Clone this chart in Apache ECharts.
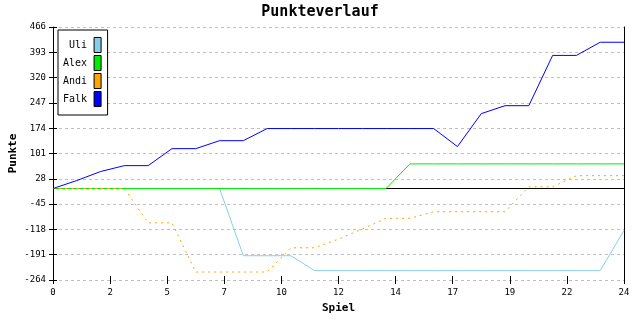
<!DOCTYPE html>
<html>
<head>
<meta charset="utf-8">
<script src="https://cdn.jsdelivr.net/npm/echarts@6/dist/echarts.min.js"></script>
<style>html,body{margin:0;padding:0;background:#fff}#c{width:640px;height:320px}</style>
</head>
<body>
<div id="c"></div>
<script>
var games = [0,1,2,3,4,5,6,7,8,9,10,11,12,13,14,15,16,17,18,19,20,21,22,23,24];
var uli  = [0,0,0,0,0,0,0,0,-194,-194,-194,-237,-237,-237,-237,-237,-237,-237,-237,-237,-237,-237,-237,-237,-121];
var alex = [0,0,0,0,0,0,0,0,0,0,0,0,0,0,0,71,71,71,71,71,71,71,71,71,71];
var andi = [0,0,0,0,-99,-99,-241,-241,-241,-241,-171,-171,-146,-117,-86,-86,-67,-67,-67,-67,5,5,37,37,37];
var falk = [0,23,49,66,66,115,115,138,138,173,173,173,173,173,173,173,173,121,216,239,239,384,384,422,422];
var zeroLine = [0,0];
var zeroX = [0,24];
var yTicks = [-264,-191,-118,-45,28,101,174,247,320,393,466];
var names = ['Uli','Alex','Andi','Falk'];
var colors = ['#87CEEB','#00EE00','#FFA500','#0000FF'];

function pairs(vals){ return games.map(function(g,i){ return [g, vals[i]]; }); }

var mono = 'DejaVu Sans Mono';
var yMin = yTicks[0], yMax = yTicks[yTicks.length-1], yInt = yTicks[1]-yTicks[0];

var chart = echarts.init(document.getElementById('c'), null, {renderer:'canvas'});
chart.setOption({
  animation:false,
  backgroundColor:'#fff',
  title:{text:'Punkteverlauf', left:'center', top:5, padding:0,
    textStyle:{fontFamily:mono, fontSize:15, fontWeight:'bold', color:'#000'}},
  legend:{orient:'vertical', left:58, top:30, align:'right', icon:'rect',
    itemWidth:7, itemHeight:15, itemGap:2, data:names,
    backgroundColor:'#fff', borderColor:'#000', borderWidth:1, borderRadius:0,
    padding:[7,6,8,5],
    itemStyle:{borderColor:'#000', borderWidth:1},
    textStyle:{fontFamily:mono, fontSize:10, color:'#000', padding:[0,2,0,0]}},
  grid:{left:53, right:16, top:27, bottom:40, containLabel:false, outerBoundsMode:'none'},
  xAxis:[{type:'value', min:0, max:24, interval:2.4, position:'bottom',
    name:'Spiel', nameLocation:'middle', nameGap:23, nameMoveOverlap:false,
    nameTextStyle:{fontFamily:mono, fontSize:11, fontWeight:'bold', color:'#000'},
    axisLine:{show:false, onZero:false},
    axisTick:{show:true, inside:false, length:4, lineStyle:{color:'#000', width:1}},
    axisLabel:{fontFamily:mono, fontSize:9, color:'#000', margin:8,
      formatter:function(v){ return String(Math.round(v)); }},
    splitLine:{show:false}},
   {type:'value', min:0, max:24, interval:2.4, position:'bottom',
    axisLine:{show:false, onZero:false}, axisLabel:{show:false}, splitLine:{show:false},
    axisTick:{show:true, inside:true, length:4, lineStyle:{color:'#000', width:1}}}],
  yAxis:[{type:'value', min:yMin, max:yMax, interval:yInt, position:'left',
    name:'Punkte', nameLocation:'middle', nameGap:34, nameMoveOverlap:false,
    nameTextStyle:{fontFamily:mono, fontSize:11, fontWeight:'bold', color:'#000'},
    axisLine:{show:true, onZero:false, lineStyle:{color:'#000', width:1}},
    axisTick:{show:true, inside:false, length:4, lineStyle:{color:'#000', width:1}},
    axisLabel:{fontFamily:mono, fontSize:9, color:'#000', margin:7},
    splitLine:{show:true, lineStyle:{color:'#c0c0c0', type:[3,3], width:1}}},
   {type:'value', min:yMin, max:yMax, interval:yInt, position:'left',
    axisLine:{show:false, onZero:false}, axisLabel:{show:false}, splitLine:{show:false},
    axisTick:{show:true, inside:true, length:4, lineStyle:{color:'#000', width:1}}},
   {type:'value', min:yMin, max:yMax, interval:yInt, position:'right',
    axisLine:{show:true, onZero:false, lineStyle:{color:'#000', width:1}},
    axisTick:{show:false}, axisLabel:{show:false}, splitLine:{show:false}}],
  series:[
    {type:'line', name:'zero', data:zeroX.map(function(x,i){return [x, zeroLine[i]];}),
     showSymbol:false, silent:true, lineStyle:{color:'#000', width:1}},
    {type:'line', name:'Uli', data:pairs(uli), showSymbol:false, color:colors[0],
     lineStyle:{color:colors[0], width:1}},
    {type:'line', name:'Alex', data:pairs(alex), showSymbol:false, color:colors[1],
     lineStyle:{color:colors[1], width:1}},
    {type:'line', name:'Andi', data:pairs(andi), showSymbol:false, color:colors[2],
     lineStyle:{color:colors[2], width:1, type:[2,4]}},
    {type:'line', name:'Falk', data:pairs(falk), showSymbol:false, color:colors[3],
     lineStyle:{color:colors[3], width:1}}
  ]
});
</script>
</body>
</html>
